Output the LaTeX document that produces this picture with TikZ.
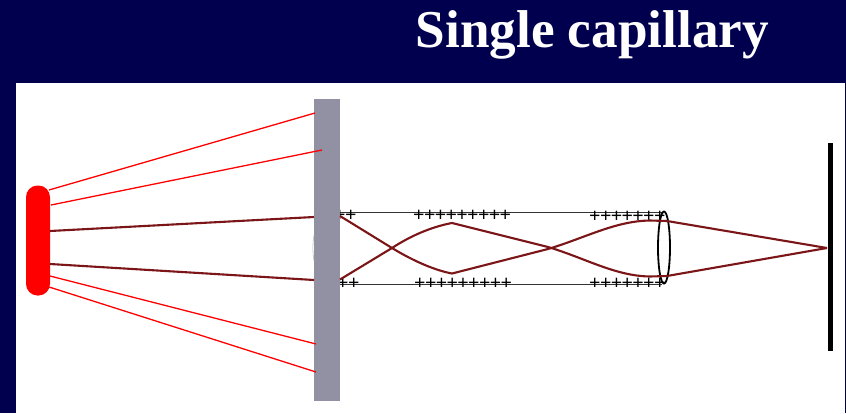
\documentclass[tikz,border=0pt]{standalone}
\usepackage{fontspec}
\usetikzlibrary{shapes.geometric}
\setmainfont{Liberation Serif}
\newfontfamily\plusfont[LetterSpace=-3]{Liberation Serif}
\definecolor{navybg}{HTML}{00004F}
\definecolor{plategrey}{HTML}{9191A3}
\definecolor{beam}{HTML}{7B1518}
\tikzset{
  redray/.style={draw=red,line width=1.3pt},
  beamray/.style={draw=beam,line width=2.1pt,line join=round},
  pluses/.style={inner sep=0pt,anchor=west,text=black,font=\plusfont\bfseries\fontsize{20}{20}\selectfont},
  wall/.style={draw=black!80,line width=1pt},
}
\begin{document}
\begin{tikzpicture}[x=1pt,y=-1pt]
\useasboundingbox (0,0) rectangle (846,413);
\fill[navybg] (0,0) rectangle (846,413);
\fill[white] (16,83) rectangle (845,413);
\node[inner sep=0pt,anchor=base west,text=white,font=\fontsize{53.2}{53}\selectfont\bfseries] (title) at (415.5,47) {Single capillary};
% capillary walls and charges
\coordinate (wt0) at (340,212.5); \coordinate (wt1) at (662,212.5);
\coordinate (wb0) at (340,284.5); \coordinate (wb1) at (662,284.5);
\draw[wall] (wt0) -- (wt1);
\draw[wall] (wb0) -- (wb1);
\node[pluses] (p1) at (334,215.5) {++};
\node[pluses] (p2) at (337,284) {++};
\node[pluses] (p3) at (413,215.5) {+++++++++};
\node[pluses] (p4) at (414,284) {+++++++++};
\node[pluses] (p5) at (589,217) {+++++++};
\node[pluses] (p6) at (589,284) {+++++++};
% plate
\node[fill=plategrey,inner sep=0pt,minimum width=26pt,minimum height=302pt] (plate) at (327,250) {};
\draw[black!25,line width=0.6pt] (314,235) .. controls (312.5,243) and (312.5,253) .. (314,261);
% source
\node[fill=red,inner sep=0pt,minimum width=24pt,minimum height=110pt,rounded corners=11.5pt] (source) at (38,240.5) {};
% detector
\node[fill=black,inner sep=0pt,minimum width=4.5pt,minimum height=208pt] (detector) at (830.3,247) {};
% lens
\node[draw=black,line width=1.8pt,ellipse,inner sep=0pt,minimum width=12pt,minimum height=72pt] (lens) at (664,247.5) {};
% rays from source
\draw[redray] (49,190) -- (315,113);
\draw[redray] (51,205) -- (322,150);
\draw[redray] (50,276) -- (316,344);
\draw[redray] (46,286) -- (316,372);
\draw[beamray] (50,231) -- (314,217);
\draw[beamray] (50,264) -- (314,280);
% focused beams
\coordinate (focus) at (827,248);
\draw[beamray] (340,216) -- (392,248) .. controls (415,262) and (436,270.5) .. (452,273.5)
  -- (548,249) .. controls (585,238) and (615,221) .. (650,220.5) -- (667,221) -- (focus);
\draw[beamray] (340,279.5) -- (392,248) .. controls (415,233) and (436,226) .. (452,223)
  -- (548,247) .. controls (585,258) and (615,276) .. (650,276.5) -- (667,276) -- (focus);
\end{tikzpicture}
\end{document}
